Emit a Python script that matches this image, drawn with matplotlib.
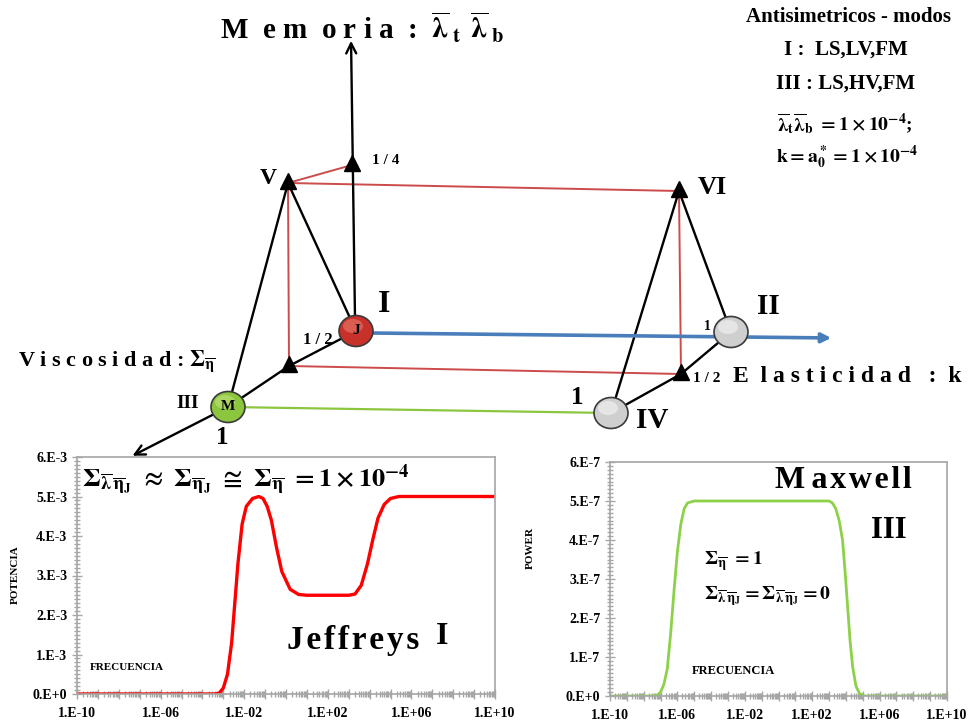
import numpy as np
import matplotlib.pyplot as plt
from matplotlib.patches import Ellipse
from matplotlib.ticker import FixedLocator, MultipleLocator, NullFormatter

plt.rcParams['font.family'] = ['Liberation Serif', 'DejaVu Serif']
plt.rcParams['font.weight'] = 'bold'
plt.rcParams['mathtext.fontset'] = 'stix'
plt.rcParams['mathtext.default'] = 'bf'

# Jeffreys (mode I): log10(frecuencia) vs potencia (x1e-3)
jef_logf = [-10, -4.0, -3.4, -3.2, -3.0, -2.8, -2.6, -2.45, -2.3, -2.1, -1.9, -1.6,
            -1.3, -1.1, -0.9, -0.7, -0.45, -0.2, 0.2, 0.6, 1.0, 3.0, 3.3, 3.6,
            3.9, 4.15, 4.4, 4.7, 5.0, 5.4, 6.0, 10]
jef_pow = [0, 0, 0.0, 0.02, 0.15, 0.5, 1.3, 2.3, 3.3, 4.3, 4.75, 4.95,
           5.0, 4.95, 4.75, 4.4, 3.7, 3.1, 2.65, 2.52, 2.5, 2.5, 2.53, 2.75,
           3.3, 3.9, 4.45, 4.8, 4.95, 5.0, 5.0, 5.0]

# Maxwell (mode III): log10(frecuencia) vs power (x1e-7)
max_logf = [-10, -7.6, -7.2, -7.0, -6.8, -6.6, -6.4, -6.2, -6.0, -5.8, -5.6, -5.4,
            -5.0, 3.0, 3.2, 3.4, 3.6, 3.8, 3.95, 4.1, 4.25, 4.4, 4.6, 4.8, 5.1, 10]
max_pow = [0, 0, 0.02, 0.1, 0.3, 0.7, 1.6, 2.7, 3.7, 4.4, 4.8, 4.95,
           5.0, 5.0, 4.95, 4.8, 4.5, 4.0, 3.2, 2.3, 1.4, 0.75, 0.25, 0.07, 0.0, 0]

x_tick_exp = [-10, -6, -2, 2, 6, 10]
x_tick_labels = ['1.E-10', '1.E-06', '1.E-02', '1.E+02', '1.E+06', '1.E+10']
jef_ylabels = ['0.E+0', '1.E-3', '2.E-3', '3.E-3', '4.E-3', '5.E-3', '6.E-3']
max_ylabels = ['0.E+0', '1.E-7', '2.E-7', '3.E-7', '4.E-7', '5.E-7', '6.E-7']

W, H = 974, 723
fig = plt.figure(figsize=(W / 100, H / 100), dpi=100)


def style_plot(ax, scale, ylabels):
    ax.set_xscale('log')
    ax.set_xlim(1e-10, 1e10)
    ax.set_ylim(0, 6 * scale)
    ax.xaxis.set_minor_locator(FixedLocator([m * 10.0 ** e for e in range(-10, 10) for m in range(2, 10)]))
    ax.set_xticks([10.0 ** e for e in range(-10, 11)],
                  [x_tick_labels[x_tick_exp.index(e)] if e in x_tick_exp else '' for e in range(-10, 11)])
    ax.xaxis.set_minor_formatter(NullFormatter())
    ax.set_yticks([i * scale for i in range(7)], ylabels)
    ax.yaxis.set_minor_locator(MultipleLocator(0.1 * scale))
    for s in ax.spines.values():
        s.set_color('#a6a6a6')
        s.set_linewidth(1.2)
    ax.tick_params(which='both', direction='inout', color='#a6a6a6', labelsize=10)
    ax.tick_params(which='major', length=7, width=1)
    ax.tick_params(which='minor', length=5, width=1)
    ax.tick_params(axis='x', pad=6)
    for lab in ax.get_xticklabels() + ax.get_yticklabels():
        lab.set_fontweight('bold')


axL = fig.add_axes([77 / W, 1 - 694 / H, 418 / W, 237 / H])
axL.plot(10.0 ** np.array(jef_logf), np.array(jef_pow) * 1e-3, color='#ff0000', lw=2.4)
style_plot(axL, 1e-3, jef_ylabels)

axR = fig.add_axes([610 / W, 1 - 696 / H, 337 / W, 234 / H])
axR.plot(10.0 ** np.array(max_logf), np.array(max_pow) * 1e-7, color='#8dd14a', lw=2.0)
style_plot(axR, 1e-7, max_ylabels)

# overlay in pixel coordinates for the diagram and annotations
ov = fig.add_axes([0, 0, 1, 1], zorder=5)
ov.set_xlim(0, W)
ov.set_ylim(H, 0)
ov.axis('off')

V, VI, T14 = (288, 183), (679, 191), (352, 165)
J, M, II, IV = (356, 331), (228, 407), (731, 332), (611, 413)
TA, TB = (289, 366), (681, 374)

red = '#cc4b4b'


def seg(p, q, **kw):
    ov.plot([p[0], q[0]], [p[1], q[1]], **kw)


for p, q in [(V, T14), (V, VI), (V, TA), (TA, TB), (VI, TB)]:
    seg(p, q, color=red, lw=1.4, zorder=2)
seg(M, IV, color='#8cc63f', lw=1.6, zorder=2)
for p, q in [(V, M), (V, J), (VI, II), (VI, IV), (II, TB), (TB, IV), (J, TA), (TA, M)]:
    seg(p, q, color='black', lw=1.7, zorder=3)

ov.annotate('', xy=(130, 457), xytext=M,
            arrowprops=dict(arrowstyle='->', color='black', lw=1.7, mutation_scale=18))
ov.annotate('', xy=(351, 38), xytext=(355, 318),
            arrowprops=dict(arrowstyle='->', color='black', lw=1.7, mutation_scale=18))
ov.annotate('', xy=(834, 338), xytext=(370, 333),
            arrowprops=dict(arrowstyle='-|>', color='#4a7ebb', lw=2.6, mutation_scale=14))

for p in [V, VI, T14, TA, TB]:
    ov.plot(p[0], p[1] - 2, marker='^', color='black', ms=11, zorder=4)


def ball(c, fc, hc, letter=None):
    ov.add_patch(Ellipse(c, 34, 31, fc=fc, ec='#3a3a3a', lw=1.2, zorder=6))
    ov.add_patch(Ellipse((c[0] - 3, c[1] - 5), 20, 14, fc=hc, ec='none', alpha=0.6, zorder=6))
    if letter:
        ov.text(c[0], c[1], letter, ha='center', va='center', fontsize=11, zorder=7)


ball(J, '#c8302a', '#e87a6a', 'J')
ball(M, '#8cc63f', '#c2e27a', 'M')
ball(II, '#cfcfcf', '#f4f4f4')
ball(IV, '#cfcfcf', '#f4f4f4')

hs = '\u200a'
t = dict(ha='center', va='center', zorder=8)
ov.text(220, 27, r'M  e m  o r i a  :  $\overline{\lambda}_{\;t}\;\,\overline{\lambda}_{\;b}$',
        ha='left', va='center', fontsize=21)
ov.text(372, 160, '1 / 4', ha='left', va='center', fontsize=11)
ov.text(268, 179, 'V', fontsize=17, **t)
ov.text(712, 188, 'VI', fontsize=19, **t)
ov.text(384, 305, 'I', fontsize=23, **t)
ov.text(318, 340, '1 / 2', fontsize=12, **t)
ov.text(18, 362, r'V i s c o s i d a d : $\Sigma_{\overline{\eta}}$', ha='left', va='center', fontsize=16)
ov.text(188, 403, 'III', fontsize=14, **t)
ov.text(222, 438, '1', fontsize=18, **t)
ov.text(768, 306, 'II', fontsize=21, **t)
ov.text(707, 326, '1', fontsize=10, **t)
ov.text(577, 397, '1', fontsize=18, **t)
ov.text(652, 420, 'IV', fontsize=21, **t)
ov.text(693, 378, '1 / 2', ha='left', va='center', fontsize=11)
ov.text(733, 376, 'E  l a s t i c i d a d   :  k', ha='left', va='center', fontsize=17)

ov.text(849, 17, 'Antisimetricos - modos', fontsize=15, **t)
ov.text(846, 50, 'I :  LS,LV,FM', fontsize=15, **t)
ov.text(846, 84, 'III : LS,HV,FM', fontsize=15, **t)
ov.text(845, 124, r'$\overline{\lambda}_t\overline{\lambda}_b\ = 1\times10^{-4}$;', fontsize=14, **t)
ov.text(847, 157, r'$k = a_0^* = 1\times10^{-4}$', fontsize=14, **t)

# annotations inside the plots
ov.text(82, 480, r'$\Sigma_{\overline{\lambda}\,\overline{\eta}_J}\ \approx\ \Sigma_{\overline{\eta}_J}\ \cong\ \Sigma_{\overline{\eta}}\ = 1\times10^{-4}$',
        ha='left', va='center', fontsize=19)
ov.text(90, 668, 'FRECUENCIA', ha='left', va='center', fontsize=8)
ov.text(287, 640, hs.join('Jeffreys'), ha='left', va='center', fontsize=24)
ov.text(442, 636, 'I', fontsize=23, **t)
ov.text(15, 575, 'POTENCIA', rotation=90, fontsize=8, **t)
ov.text(530, 548, 'POWER', rotation=90, fontsize=8, **t)
ov.text(775, 480, 'M\u2009' + hs.join('axwell'), ha='left', va='center', fontsize=23)
ov.text(889, 530, 'III', fontsize=22, **t)
ov.text(704, 561, r'$\Sigma_{\overline{\eta}}\ = 1$', ha='left', va='center', fontsize=14)
ov.text(704, 596, r'$\Sigma_{\overline{\lambda}\,\overline{\eta}_J} = \Sigma_{\overline{\lambda}\,\overline{\eta}_J} = 0$',
        ha='left', va='center', fontsize=14)
ov.text(733, 671, 'FRECUENCIA', fontsize=9, **t)

fig.savefig('out.png', dpi=100)
